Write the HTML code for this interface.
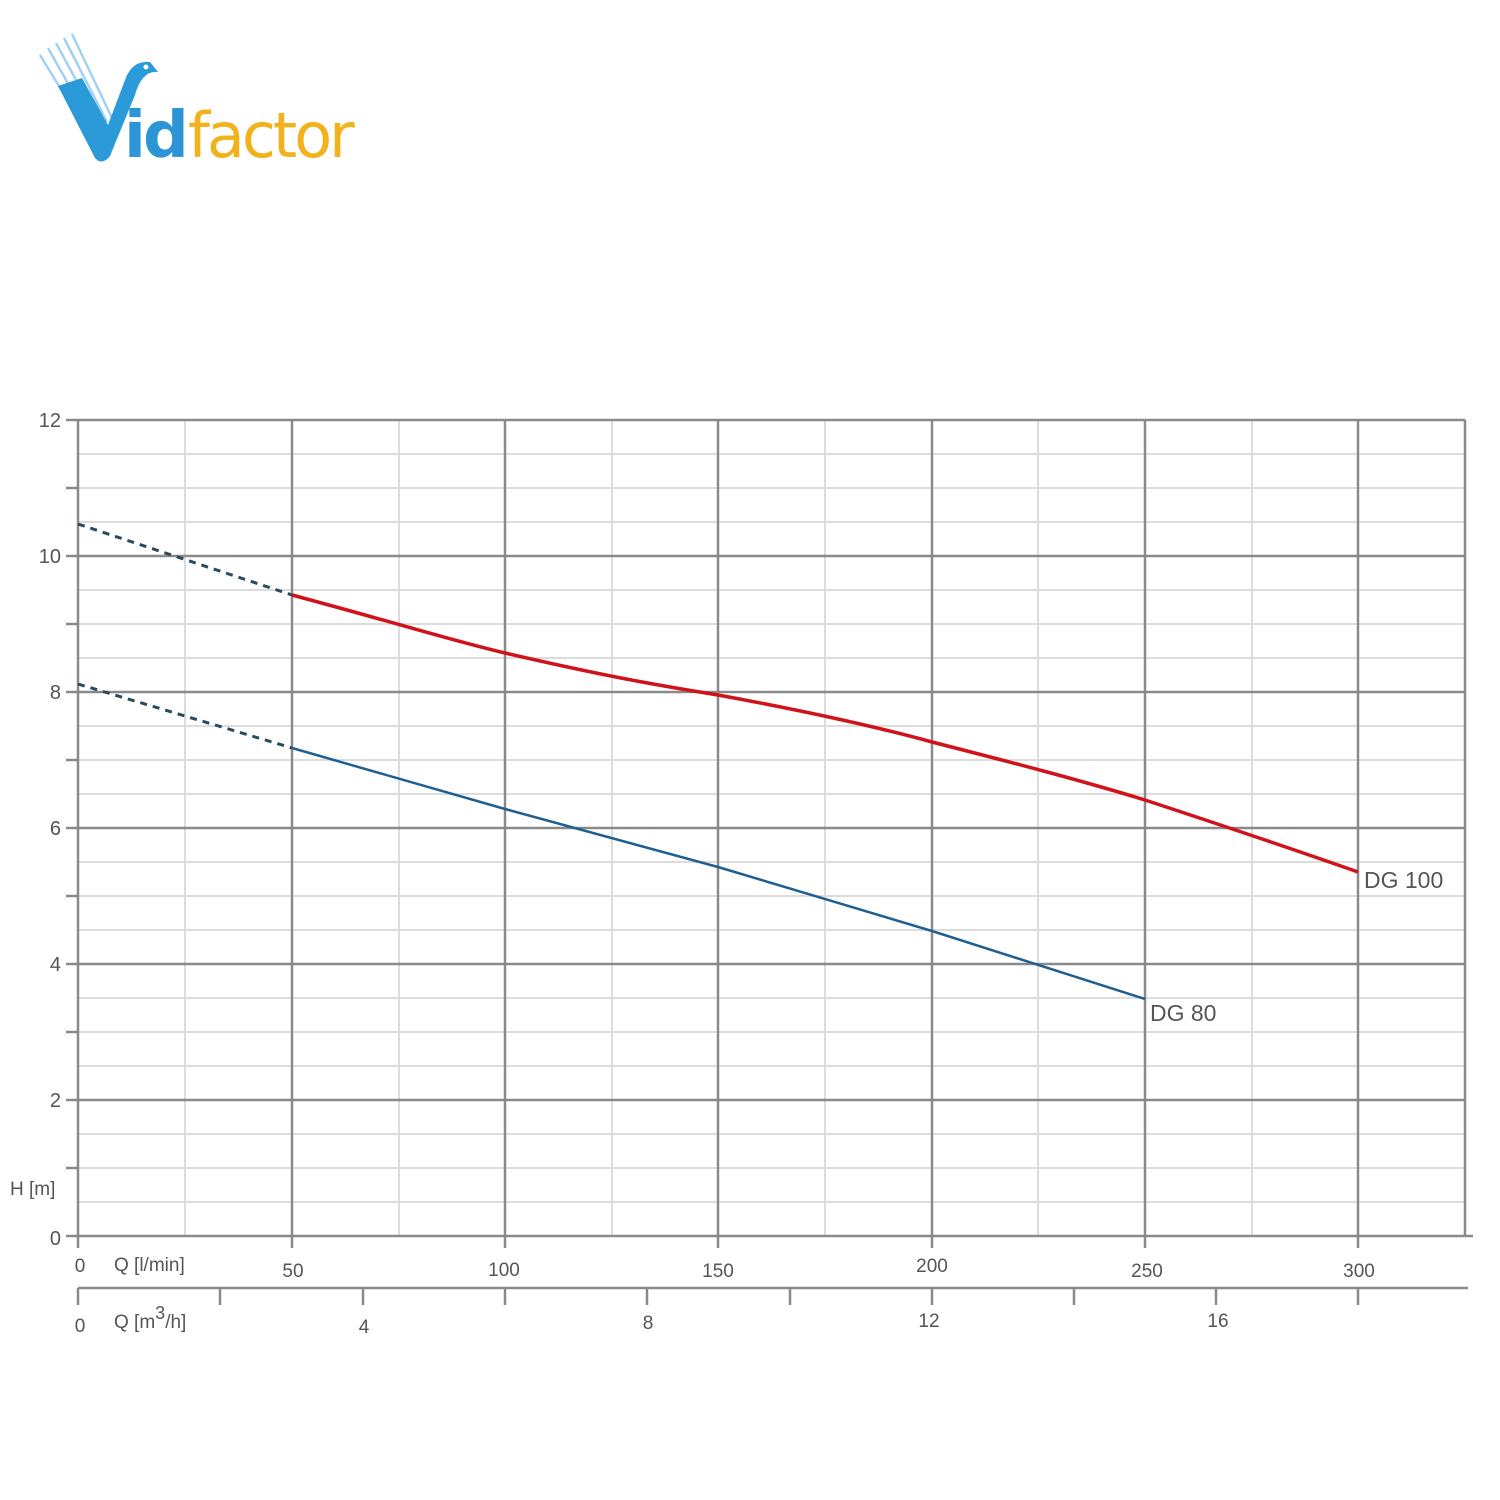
<!DOCTYPE html>
<html><head><meta charset="utf-8"><style>
html,body{margin:0;padding:0;background:#fff;}
svg{display:block;}
text{font-family:"Liberation Sans",sans-serif;fill:#555;}
</style></head><body>
<svg width="1500" height="1500" viewBox="0 0 1500 1500" xmlns="http://www.w3.org/2000/svg">
<rect width="1500" height="1500" fill="#fff"/>
<!-- logo -->
<g>
<g stroke="#8cc6ee" stroke-width="2.5" opacity="0.8">
<line x1="40" y1="55" x2="92" y2="140"/>
<line x1="48" y1="48" x2="97" y2="135"/>
<line x1="56" y1="43" x2="102" y2="128"/>
<line x1="64" y1="38" x2="107" y2="122"/>
<line x1="72" y1="34" x2="112" y2="118"/>
</g>
<path d="M58 86 L95 158 Q102 166 110 156 L135 95 Q142 70 158 72 L150 62 Q132 60 125 80 L108 125 L82 78 Z" fill="#2a9ad8"/>
<circle cx="146" cy="67" r="2.5" fill="#fff"/>
<text x="124" y="157" font-size="64" font-weight="bold" style="fill:#2b95d6;font-family:'DejaVu Sans',sans-serif;" letter-spacing="-3">id</text>
<text x="188" y="157" font-size="62" style="fill:#f2b21c;font-family:'DejaVu Sans',sans-serif;" letter-spacing="-3">factor</text>
</g>
<!-- minor horizontal grid -->
<g stroke="#dcdcdc" stroke-width="2">
<line x1="78" y1="454" x2="1465" y2="454"/><line x1="78" y1="488" x2="1465" y2="488"/><line x1="78" y1="522" x2="1465" y2="522"/>
<line x1="78" y1="590" x2="1465" y2="590"/><line x1="78" y1="624" x2="1465" y2="624"/><line x1="78" y1="658" x2="1465" y2="658"/>
<line x1="78" y1="726" x2="1465" y2="726"/><line x1="78" y1="760" x2="1465" y2="760"/><line x1="78" y1="794" x2="1465" y2="794"/>
<line x1="78" y1="862" x2="1465" y2="862"/><line x1="78" y1="896" x2="1465" y2="896"/><line x1="78" y1="930" x2="1465" y2="930"/>
<line x1="78" y1="998" x2="1465" y2="998"/><line x1="78" y1="1032" x2="1465" y2="1032"/><line x1="78" y1="1066" x2="1465" y2="1066"/>
<line x1="78" y1="1134" x2="1465" y2="1134"/><line x1="78" y1="1168" x2="1465" y2="1168"/><line x1="78" y1="1202" x2="1465" y2="1202"/>
<line x1="185" y1="420" x2="185" y2="1236"/><line x1="399" y1="420" x2="399" y2="1236"/><line x1="612" y1="420" x2="612" y2="1236"/>
<line x1="825" y1="420" x2="825" y2="1236"/><line x1="1038" y1="420" x2="1038" y2="1236"/><line x1="1252" y1="420" x2="1252" y2="1236"/>
</g>
<!-- major grid -->
<g stroke="#8a8a8a" stroke-width="2.5">
<line x1="66" y1="420" x2="1465" y2="420"/>
<line x1="66" y1="556" x2="1465" y2="556"/>
<line x1="66" y1="692" x2="1465" y2="692"/>
<line x1="66" y1="828" x2="1465" y2="828"/>
<line x1="66" y1="964" x2="1465" y2="964"/>
<line x1="66" y1="1100" x2="1465" y2="1100"/>
<line x1="66" y1="1236" x2="1473" y2="1236"/>
<line x1="66" y1="488" x2="78" y2="488"/><line x1="66" y1="624" x2="78" y2="624"/><line x1="66" y1="760" x2="78" y2="760"/>
<line x1="66" y1="896" x2="78" y2="896"/><line x1="66" y1="1032" x2="78" y2="1032"/><line x1="66" y1="1168" x2="78" y2="1168"/>
<line x1="78" y1="420" x2="78" y2="1248"/>
<line x1="292" y1="420" x2="292" y2="1248"/>
<line x1="505" y1="420" x2="505" y2="1248"/>
<line x1="718" y1="420" x2="718" y2="1248"/>
<line x1="932" y1="420" x2="932" y2="1248"/>
<line x1="1145" y1="420" x2="1145" y2="1248"/>
<line x1="1358" y1="420" x2="1358" y2="1248"/>
<line x1="1465" y1="420" x2="1465" y2="1236"/>
<line x1="78" y1="1288" x2="1468" y2="1288"/>
<line x1="78" y1="1288" x2="78" y2="1305"/><line x1="220" y1="1288" x2="220" y2="1305"/><line x1="363" y1="1288" x2="363" y2="1305"/>
<line x1="505" y1="1288" x2="505" y2="1305"/><line x1="647" y1="1288" x2="647" y2="1305"/><line x1="790" y1="1288" x2="790" y2="1305"/>
<line x1="932" y1="1288" x2="932" y2="1305"/><line x1="1074" y1="1288" x2="1074" y2="1305"/><line x1="1216" y1="1288" x2="1216" y2="1305"/>
<line x1="1358" y1="1288" x2="1358" y2="1305"/>
</g>
<!-- curves -->
<path d="M78 524 L292 595" stroke="#2a4a60" stroke-width="3" stroke-dasharray="7,6" fill="none"/>
<path d="M78 684 L292 748" stroke="#2a4a60" stroke-width="3" stroke-dasharray="7,6" fill="none"/>
<path d="M292 595 C400 624 450 640 505 653 C600 675 650 684 718 695 C800 710 870 725 932 742 C1010 762 1080 780 1145 800 C1230 828 1290 848 1358 872" stroke="#d0121b" stroke-width="3.5" fill="none"/>
<path d="M292 748 L505 809 L718 867 L932 931 L1145 999" stroke="#1f5f92" stroke-width="2.5" fill="none"/>
<!-- labels -->
<g font-size="20" text-anchor="end">
<text x="61" y="427">12</text><text x="61" y="563">10</text><text x="61" y="699">8</text>
<text x="61" y="835">6</text><text x="61" y="971">4</text><text x="61" y="1107">2</text><text x="61" y="1245">0</text>
</g>
<text x="10" y="1195" font-size="19">H [m]</text>
<g font-size="19" text-anchor="middle">
<text x="80" y="1272">0</text><text x="293" y="1277">50</text><text x="504" y="1276">100</text><text x="718" y="1277">150</text>
<text x="932" y="1272">200</text><text x="1147" y="1277">250</text><text x="1359" y="1277">300</text>
<text x="80" y="1332">0</text><text x="364" y="1333">4</text><text x="648" y="1329">8</text><text x="929" y="1327">12</text><text x="1218" y="1327">16</text>
</g>
<text x="114" y="1271" font-size="19">Q [l/min]</text>
<text x="114" y="1328" font-size="19">Q [m<tspan dy="-9" font-size="18">3</tspan><tspan dy="9">/h]</tspan></text>
<text x="1364" y="888" font-size="23">DG 100</text>
<text x="1150" y="1021" font-size="23">DG 80</text>
</svg>
</body></html>
